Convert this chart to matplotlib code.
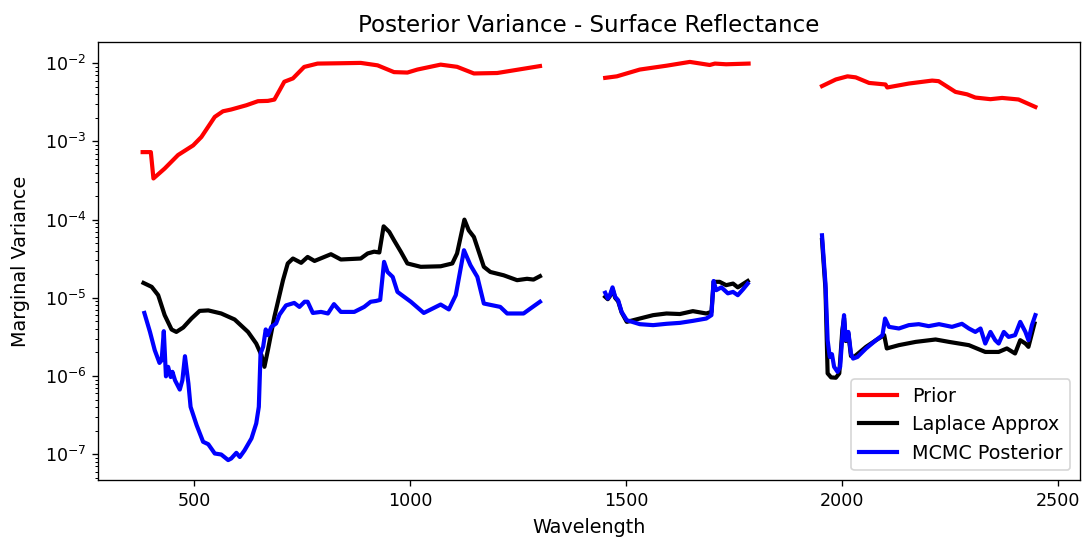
import numpy as np
import matplotlib
matplotlib.use("Agg")
import matplotlib.pyplot as plt

# wavelength grids (nm) for the three retained spectral windows
prior_wl_1 = [380, 399, 405, 431, 462, 497, 516, 547, 566, 585, 620, 647, 670, 685, 697, 708, 728, 754, 785, 839, 885, 924, 962, 993, 1016, 1070, 1108, 1147, 1201, 1300]
prior_1 = [7.3e-4, 7.3e-4, 3.36e-4, 4.5e-4, 6.7e-4, 8.9e-4, 1.14e-3, 2.06e-3, 2.43e-3, 2.56e-3, 2.9e-3, 3.27e-3, 3.3e-3, 3.43e-3, 4.5e-3, 5.8e-3, 6.4e-3, 8.97e-3, 9.9e-3, 1.0e-2, 1.01e-2, 9.4e-3, 7.7e-3, 7.6e-3, 8.3e-3, 9.6e-3, 9.0e-3, 7.4e-3, 7.5e-3, 9.2e-3]
prior_wl_2 = [1451, 1478, 1531, 1593, 1647, 1693, 1705, 1731, 1783]
prior_2 = [6.5e-3, 6.8e-3, 8.3e-3, 9.3e-3, 1.04e-2, 9.5e-3, 9.9e-3, 9.7e-3, 9.9e-3]
prior_wl_3 = [1953, 1985, 2012, 2031, 2062, 2100, 2104, 2154, 2208, 2223, 2262, 2289, 2308, 2343, 2370, 2408, 2447]
prior_3 = [5.1e-3, 6.2e-3, 6.8e-3, 6.6e-3, 5.6e-3, 5.35e-3, 4.9e-3, 5.5e-3, 6.0e-3, 5.9e-3, 4.3e-3, 4.0e-3, 3.64e-3, 3.47e-3, 3.6e-3, 3.44e-3, 2.76e-3]

lap_wl_1 = [382, 401, 416, 431, 447, 458, 474, 493, 512, 532, 562, 593, 624, 643, 655, 662, 670, 685, 705, 716, 728, 747, 762, 778, 816, 839, 885, 901, 916, 928, 938, 951, 962, 978, 993, 1024, 1070, 1097, 1108, 1125, 1135, 1147, 1170, 1185, 1216, 1247, 1270, 1285, 1300]
lap_1 = [1.55e-5, 1.38e-5, 1.08e-5, 6.0e-6, 3.93e-6, 3.66e-6, 4.17e-6, 5.43e-6, 6.8e-6, 6.9e-6, 6.3e-6, 5.28e-6, 3.66e-6, 2.6e-6, 1.85e-6, 1.31e-6, 2.14e-6, 5.7e-6, 1.68e-5, 2.75e-5, 3.18e-5, 2.8e-5, 3.33e-5, 2.96e-5, 3.61e-5, 3.09e-5, 3.18e-5, 3.69e-5, 3.89e-5, 3.8e-5, 8.2e-5, 6.97e-5, 5.45e-5, 3.87e-5, 2.75e-5, 2.49e-5, 2.53e-5, 2.75e-5, 3.69e-5, 1.0e-4, 7.3e-5, 6.0e-5, 2.49e-5, 2.14e-5, 1.94e-5, 1.68e-5, 1.75e-5, 1.71e-5, 1.89e-5]
lap_wl_2 = [1451, 1457, 1462, 1468, 1474, 1481, 1489, 1501, 1531, 1562, 1593, 1624, 1654, 1685, 1697, 1702, 1716, 1731, 1747, 1758, 1781]
lap_2 = [1.03e-5, 9.6e-6, 1.05e-5, 1.3e-5, 1.0e-5, 9.0e-6, 6.5e-6, 4.92e-6, 5.43e-6, 6.0e-6, 6.3e-6, 6.2e-6, 6.75e-6, 6.3e-6, 6.6e-6, 1.6e-5, 1.6e-5, 1.45e-5, 1.52e-5, 1.36e-5, 1.64e-5]
lap_wl_3 = [1953, 1961, 1966, 1974, 1985, 1993, 2000, 2004, 2008, 2014, 2020, 2027, 2055, 2078, 2097, 2103, 2131, 2170, 2216, 2247, 2293, 2331, 2362, 2381, 2400, 2412, 2424, 2431, 2439, 2445]
lap_3 = [5.5e-5, 1.3e-5, 1.08e-6, 9.6e-7, 9.5e-7, 1.08e-6, 3.85e-6, 5.5e-6, 2.8e-6, 3.5e-6, 1.8e-6, 1.75e-6, 2.36e-6, 2.87e-6, 3.33e-6, 2.25e-6, 2.48e-6, 2.73e-6, 2.93e-6, 2.73e-6, 2.48e-6, 2.03e-6, 2.03e-6, 2.25e-6, 1.94e-6, 2.87e-6, 2.6e-6, 2.36e-6, 3.5e-6, 4.7e-6]

mcmc_wl_1 = [384, 397, 408, 419, 424, 429, 434, 439, 445, 449, 455, 466, 472, 478, 486, 491, 505, 520, 532, 547, 562, 578, 585, 597, 605, 616, 632, 643, 649, 653, 659, 665, 670, 678, 689, 697, 712, 731, 743, 755, 762, 774, 793, 809, 823, 839, 870, 893, 908, 920, 930, 939, 947, 959, 970, 1001, 1031, 1070, 1089, 1105, 1124, 1139, 1155, 1170, 1208, 1224, 1262, 1278, 1300]
mcmc_1 = [6.4e-6, 3.66e-6, 2.14e-6, 1.47e-6, 1.59e-6, 3.74e-6, 9.9e-7, 1.31e-6, 9.7e-7, 1.13e-6, 8.8e-7, 6.7e-7, 8.8e-7, 1.79e-6, 8.0e-7, 4.03e-7, 2.35e-7, 1.44e-7, 1.34e-7, 1.02e-7, 9.9e-8, 8.4e-8, 8.8e-8, 1.04e-7, 9.2e-8, 1.12e-7, 1.59e-7, 2.47e-7, 4.03e-7, 1.94e-6, 2.36e-6, 3.94e-6, 3.33e-6, 4.25e-6, 4.69e-6, 6.1e-6, 8.0e-6, 8.6e-6, 7.65e-6, 8.9e-6, 8.9e-6, 6.4e-6, 6.6e-6, 6.3e-6, 8.3e-6, 6.6e-6, 6.6e-6, 7.65e-6, 8.9e-6, 9.1e-6, 9.4e-6, 2.88e-5, 2.14e-5, 1.85e-5, 1.19e-5, 8.9e-6, 6.4e-6, 8.2e-6, 7.1e-6, 1.08e-5, 4.06e-5, 2.61e-5, 1.85e-5, 8.45e-6, 7.65e-6, 6.3e-6, 6.3e-6, 7.3e-6, 8.9e-6]
mcmc_wl_2 = [1451, 1457, 1462, 1468, 1474, 1481, 1489, 1501, 1531, 1562, 1593, 1624, 1654, 1685, 1697, 1702, 1708, 1720, 1735, 1747, 1758, 1770, 1781]
mcmc_2 = [1.16e-5, 9.8e-6, 1.08e-5, 1.36e-5, 1.03e-5, 9.3e-6, 6.6e-6, 5.17e-6, 4.6e-6, 4.47e-6, 4.65e-6, 4.78e-6, 5.07e-6, 5.43e-6, 6.0e-6, 1.64e-5, 1.25e-5, 1.36e-5, 1.14e-5, 1.19e-5, 1.08e-5, 1.28e-5, 1.52e-5]
mcmc_wl_3 = [1953, 1961, 1966, 1971, 1976, 1981, 1989, 1995, 2001, 2004, 2008, 2014, 2020, 2025, 2035, 2055, 2078, 2093, 2099, 2108, 2131, 2154, 2177, 2200, 2224, 2254, 2277, 2293, 2308, 2320, 2331, 2343, 2354, 2362, 2374, 2385, 2400, 2412, 2424, 2431, 2439, 2447]
mcmc_3 = [6.3e-5, 1.52e-5, 2.87e-6, 1.75e-6, 1.9e-6, 1.31e-6, 1.13e-6, 1.31e-6, 3.85e-6, 6.0e-6, 2.87e-6, 3.66e-6, 1.94e-6, 1.67e-6, 1.75e-6, 2.25e-6, 2.87e-6, 3.33e-6, 5.43e-6, 4.25e-6, 4.05e-6, 4.47e-6, 4.6e-6, 4.34e-6, 4.6e-6, 4.25e-6, 4.65e-6, 4.05e-6, 3.66e-6, 4.05e-6, 2.6e-6, 3.66e-6, 2.87e-6, 2.6e-6, 3.66e-6, 3.16e-6, 3.33e-6, 4.92e-6, 3.66e-6, 2.87e-6, 4.47e-6, 6.0e-6]


def join_windows(*pairs):
    # stitch windows together with NaN breaks so the gaps stay empty
    xs, ys = [], []
    for wl, v in pairs:
        if xs:
            xs.append(np.nan)
            ys.append(np.nan)
        xs.extend(wl)
        ys.extend(v)
    return np.array(xs, dtype=float), np.array(ys, dtype=float)


prior_x, prior_y = join_windows((prior_wl_1, prior_1), (prior_wl_2, prior_2), (prior_wl_3, prior_3))
lap_x, lap_y = join_windows((lap_wl_1, lap_1), (lap_wl_2, lap_2), (lap_wl_3, lap_3))
mcmc_x, mcmc_y = join_windows((mcmc_wl_1, mcmc_1), (mcmc_wl_2, mcmc_2), (mcmc_wl_3, mcmc_3))

fig = plt.figure(figsize=(1086 / 120, 539 / 120), dpi=120)
ax = fig.add_axes([98 / 1086, 59 / 539, 982 / 1086, 438 / 539])
ax.semilogy(prior_x, prior_y, color='red', lw=2.5, label='Prior')
ax.semilogy(lap_x, lap_y, color='black', lw=2.5, label='Laplace Approx')
ax.semilogy(mcmc_x, mcmc_y, color='blue', lw=2.5, label='MCMC Posterior')
ax.tick_params(labelsize=10.5)
ax.set_title("Posterior Variance - Surface Reflectance", fontsize=13.8)
ax.set_xlabel("Wavelength", fontsize=11.5, labelpad=5)
ax.set_ylabel("Marginal Variance", fontsize=11.5, labelpad=9)
ax.legend(loc='lower right', fontsize=11.5)
fig.savefig("out.png", dpi=120)
